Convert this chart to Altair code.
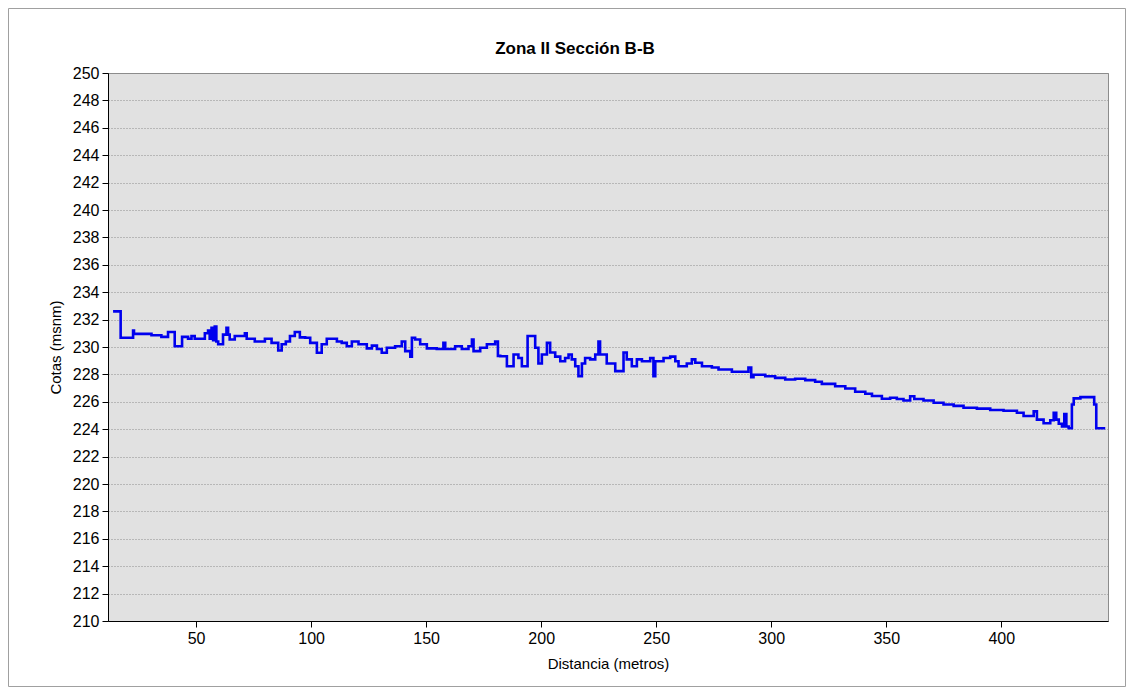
import altair as alt
import pandas as pd

# distance (m) where each step starts, and its elevation (msnm)
dist = [13.9, 17.2, 22.6, 23.0, 30.6, 34.9, 37.8, 40.7, 43.9, 46.5, 48.0, 49.4, 53.8, 55.2, 55.9, 56.7,
        57.4, 58.1, 58.8, 59.6, 61.7, 63.2, 63.9, 64.6, 66.8, 71.2, 72.0, 75.5, 79.9, 82.8, 85.7, 87.2,
        89.0, 90.8, 92.9, 95.1,
        97.4, 99.6, 102.5, 104.6, 106.8, 111.2, 113.3, 115.5, 117.7, 120.6, 124.2, 126.4, 128.6, 130.7,
        132.9, 136.5, 139.4, 140.9, 143.1, 143.8, 145.2, 147.4, 150.3, 154.6, 157.5, 158.3, 162.6, 165.5,
        168.4, 169.9, 170.6, 173.5, 176.4, 180.0, 181.2,
        182.2, 185.1, 188.0, 190.1, 191.6, 194.1, 197.4, 198.8, 200.3, 202.5, 203.9, 206.1, 208.3, 210.4,
        211.9, 213.3, 214.8, 216.2, 217.7, 219.1, 221.3, 223.5, 224.9, 225.6, 228.5, 232.2, 235.8, 237.2,
        239.4, 241.6, 243.8, 247.4, 248.8, 249.6, 253.2, 256.1, 258.3, 259.7, 263.3, 265.5,
        267.0, 269.9, 274.2, 277.1, 282.9, 290.1, 291.3, 292.3, 297.4, 301.7, 306.1, 310.4, 314.8, 319.1,
        322.0, 327.8, 332.2, 336.5, 340.9, 343.8, 348.1,
        351.7, 354.6, 357.5, 360.4, 362.2, 366.2, 370.6, 374.9, 379.3, 383.6, 389.4, 395.2, 401.0, 406.8,
        409.7, 414.1, 415.5, 418.4, 421.3, 422.8, 423.9, 425.0, 426.4, 427.4, 428.3, 429.3, 430.7, 431.5,
        434.4, 440.4, 441.3, 445.2]
cota = [232.6, 230.67, 231.2, 230.96, 230.86, 230.74, 231.1, 230.06, 230.74, 230.6, 230.8, 230.6, 231.0, 231.2, 230.6, 231.4,
        230.5, 231.5, 230.4, 230.2, 230.9, 231.4, 230.9, 230.55, 230.8, 231.0, 230.6, 230.4, 230.6, 230.3, 229.75, 230.2,
        230.4, 230.8, 231.1, 230.7,
        230.67, 230.3, 229.58, 230.2, 230.6, 230.4, 230.3, 230.06, 230.4, 230.2, 229.9, 230.1, 229.85, 229.58,
        229.95, 230.06, 230.4, 229.7, 229.3, 230.67, 230.55, 230.2, 229.9, 229.85, 230.3, 229.85, 230.06, 229.85,
        230.06, 230.55, 229.7, 229.95, 230.2, 230.4, 229.35,
        229.33, 228.6, 229.45, 229.2, 228.6, 230.8, 229.94, 228.8, 229.45, 230.3, 229.6, 229.3, 228.96, 229.2,
        229.45, 229.1, 228.6, 227.87, 228.8, 229.2, 229.1, 229.45, 230.4, 229.45, 228.8, 228.24, 229.6, 229.1,
        228.6, 229.1, 228.96, 229.2, 227.87, 228.96, 229.2, 229.3, 228.96, 228.6, 228.8, 229.1,
        228.85, 228.6, 228.5, 228.36, 228.19, 228.5, 227.8, 227.97, 227.87, 227.75, 227.63, 227.68, 227.58, 227.46,
        227.31, 227.14, 226.97, 226.73, 226.59, 226.42, 226.22,
        226.3, 226.2, 226.1, 226.4, 226.2, 226.1, 225.93, 225.8, 225.7, 225.57, 225.5, 225.4, 225.35, 225.2,
        224.96, 225.3, 224.7, 224.43, 224.65, 225.2, 224.7, 224.4, 224.2, 225.1, 224.2, 224.07, 225.8, 226.25,
        226.34, 225.8, 224.07, 224.07]

x_ticks = [50, 100, 150, 200, 250, 300, 350, 400]
y_ticks = list(range(210, 251, 2))
title_text = "Zona II Sección B-B"

df = pd.DataFrame({"dist": dist, "cota": cota})

FONT = "Liberation Sans"
W, H = 1000, 548

line = alt.Chart(df).mark_line(
    interpolate="step-after", color="#0000EE", strokeWidth=2.6, clip=True
).encode(
    x=alt.X("dist:Q",
            scale=alt.Scale(domain=[11.7, 446.4], nice=False, zero=False),
            axis=alt.Axis(values=x_ticks, grid=False, title="Distancia (metros)",
                          titleY=42, titleBaseline="middle", labelPadding=3)),
    y=alt.Y("cota:Q",
            scale=alt.Scale(domain=[210, 250], nice=False, zero=False),
            axis=alt.Axis(values=y_ticks, grid=True, gridDash=[1, 2], gridColor="#8C8C8C",
                          gridWidth=1, title="Cotas (msnm)", titleX=-53, titleY=H / 2,
                          titleBaseline="middle", titleAngle=-90, labelPadding=3)),
)

one = pd.DataFrame({"t": [title_text]})

frame = alt.Chart(one).mark_rect(
    fill="transparent", stroke="#A0A0A0", strokeWidth=1, clip=False
).encode(x=alt.value(-99.5), x2=alt.value(1017.5), y=alt.value(-64.5), y2=alt.value(613.5))

title = alt.Chart(one).mark_text(
    font=FONT, fontSize=17, fontWeight="bold", color="black",
    align="center", baseline="alphabetic", clip=False
).encode(text="t:N", x=alt.value(467), y=alt.value(-19))

chart = alt.layer(frame, line, title).properties(
    width=W, height=H,
    autosize=alt.AutoSizeParams(type="none"),
    padding={"left": 100, "top": 65, "right": 18, "bottom": 66},
).configure(
    background="white"
).configure_view(
    fill="#E1E1E1", stroke="#8C8C8C", strokeWidth=1
).configure_axis(
    labelFont=FONT, labelFontSize=16, labelColor="black",
    titleFont=FONT, titleFontSize=15, titleFontWeight="normal", titleColor="black",
    domainColor="black", domainWidth=1, tickColor="black", tickSize=6, tickWidth=1,
)

chart.save("out.html", embed_options={"renderer": "svg", "actions": False})
